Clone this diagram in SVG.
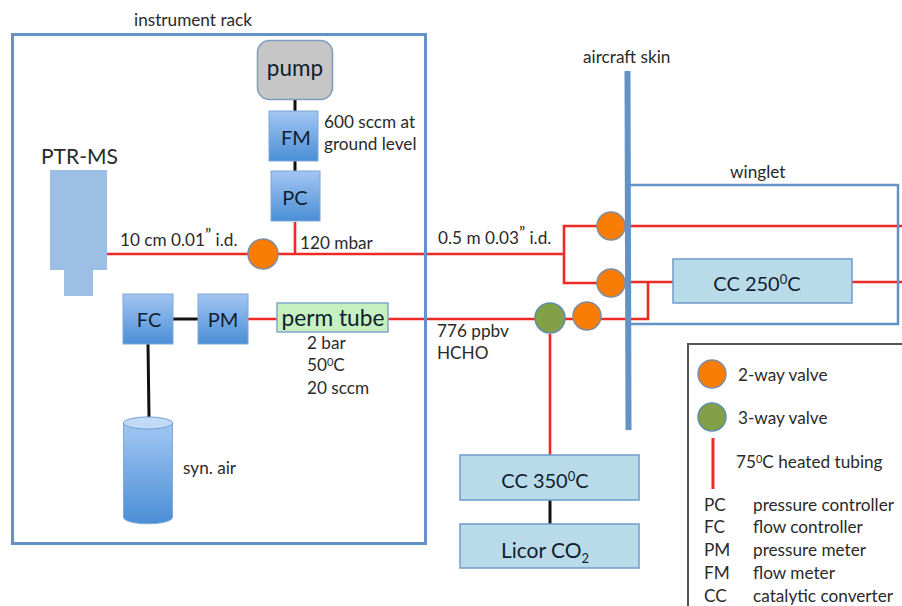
<svg xmlns="http://www.w3.org/2000/svg" width="902" height="606" viewBox="0 0 902 606">
<style>
text{font-family:"Lato","Open Sans","Liberation Sans",sans-serif;fill:#2a2a2a;font-size:17.200px}
.big{font-size:20px;fill:#10202f;text-anchor:middle}
.frame{fill:none;stroke:#6393c6;stroke-width:3}
.thin{fill:none;stroke:#6393c6;stroke-width:2.500}
.red{fill:none;stroke:#ee2a24;stroke-width:2.600}
.blk{fill:none;stroke:#111;stroke-width:3}
.blue{fill:url(#g);stroke:#7fa8d6;stroke-width:1}
.cc{fill:#b9dbe9;stroke:#6f9ccb;stroke-width:1.500}
.o{fill:#f97c05;stroke:#7f8da0;stroke-width:1.500}
.v{fill:#83a046;stroke:#5f8fa8;stroke-width:1.500}
</style>
<defs>
<linearGradient id="g" x1="0" y1="0" x2="0" y2="1"><stop offset="0" stop-color="#a3c6f2"/><stop offset="1" stop-color="#4a8ed6"/></linearGradient>
</defs>
<g id="connectors">
<path class="red" d="M107 254H564M295 222V254M564 254V226H600M564 254V283H600M627 226H902M627 282H673M852 282H902M648 282V319H388M277 319H248M550 334V455"/>
<path class="blk" d="M295 99V111M295 161V171M173 319H198M148 344L149 417M550 500V524"/>
</g>
<g id="instrument-rack"><rect class="frame" x="12.500" y="34.500" width="413" height="509"/><text x="134" y="26">instrument rack</text></g>
<g id="winglet"><path class="thin" d="M629 185H898V324H629"/><text x="730" y="178">winglet</text></g>
<g id="aircraft-skin"><line x1="627.500" y1="71" x2="628.500" y2="430" stroke="#6393c6" stroke-width="6"/><text x="583" y="63">aircraft skin</text></g>
<g id="pump"><rect x="257.500" y="40.500" width="75" height="59" rx="12" fill="#c6c6c6" stroke="#7c9cc4" stroke-width="1.500"/><text class="big" x="295" y="76" style="font-size:22.500px">pump</text></g>
<g id="fm"><rect class="blue" x="269" y="111" width="49" height="50"/><text class="big" x="296" y="145">FM</text></g>
<g id="pc"><rect class="blue" x="271" y="171" width="49" height="50"/><text class="big" x="295" y="205">PC</text></g>
<g id="ptr-ms"><path d="M50 170H107V270H93V296H64V270H50Z" fill="#9dbfe6"/><text x="41" y="164" style="font-size:21px">PTR-MS</text></g>
<g id="fc"><rect class="blue" x="123" y="294" width="50" height="50"/><text class="big" x="149" y="327">FC</text></g>
<g id="pm"><rect class="blue" x="198" y="294" width="50" height="50"/><text class="big" x="223" y="327">PM</text></g>
<g id="perm-tube"><rect x="277" y="303" width="111" height="29" fill="#c6f0c0" stroke="#7fa8c8" stroke-width="1.500"/><text class="big" x="333" y="326" style="font-size:22.700px">perm tube</text></g>
<g id="syn-air"><path class="blue" d="M123.500 423V517C123.500 526 172.500 526 172.500 517V423Z"/><ellipse cx="148" cy="423" rx="24.500" ry="6" fill="#c3daf7" stroke="#6f9fd6"/><text x="183" y="474">syn. air</text></g>
<g id="valves">
<circle class="o" cx="263" cy="254" r="15"/>
<circle class="o" cx="611" cy="226" r="14"/>
<circle class="o" cx="611" cy="283" r="14"/>
<circle class="o" cx="587" cy="316" r="14"/>
<circle class="v" cx="550" cy="318" r="15"/>
</g>
<g id="cc250"><rect class="cc" x="673" y="259" width="179" height="44"/><text class="big" x="757" y="291">CC 250<tspan dy="-7" style="font-size:13px">0</tspan><tspan dy="7">C</tspan></text></g>
<g id="cc350"><rect class="cc" x="460" y="455" width="179" height="45"/><text class="big" x="545" y="488">CC 350<tspan dy="-7" style="font-size:13px">0</tspan><tspan dy="7">C</tspan></text></g>
<g id="licor"><rect class="cc" x="460" y="524" width="179" height="44"/><text class="big" x="545" y="558" style="font-size:21px">Licor CO<tspan dy="5" style="font-size:13px">2</tspan></text></g>
<g id="labels">
<text x="324" y="128">600 sccm at</text>
<text x="324" y="150">ground level</text>
<text x="120" y="246">10 cm 0.01<tspan dy="-5">”</tspan><tspan dy="5"> i.d.</tspan></text>
<text x="300" y="249">120 mbar</text>
<text x="438" y="244">0.5 m 0.03<tspan dy="-5">”</tspan><tspan dy="5"> i.d.</tspan></text>
<text x="437" y="337">776 ppbv</text>
<text x="437" y="359">HCHO</text>
<text x="307" y="349">2 bar</text>
<text x="307" y="371">50<tspan dy="-5" style="font-size:11px">0</tspan><tspan dy="5">C</tspan></text>
<text x="307" y="394">20 sccm</text>
</g>
<g id="legend">
<path d="M902 344H688V606" fill="none" stroke="#555" stroke-width="2"/>
<circle class="o" cx="712" cy="374" r="14"/><text x="738" y="381">2-way valve</text>
<circle class="v" cx="712" cy="417" r="14"/><text x="738" y="424">3-way valve</text>
<line x1="713" y1="438" x2="713" y2="489" stroke="#ee2a24" stroke-width="3"/>
<text x="736" y="468">75<tspan dy="-5" style="font-size:11px">0</tspan><tspan dy="5">C heated tubing</tspan></text>
<text x="704" y="511">PC</text><text x="753" y="511">pressure controller</text>
<text x="704" y="533">FC</text><text x="753" y="533">flow controller</text>
<text x="704" y="556">PM</text><text x="753" y="556">pressure meter</text>
<text x="704" y="579">FM</text><text x="753" y="579">flow meter</text>
<text x="704" y="602">CC</text><text x="753" y="602">catalytic converter</text>
</g>
</svg>
